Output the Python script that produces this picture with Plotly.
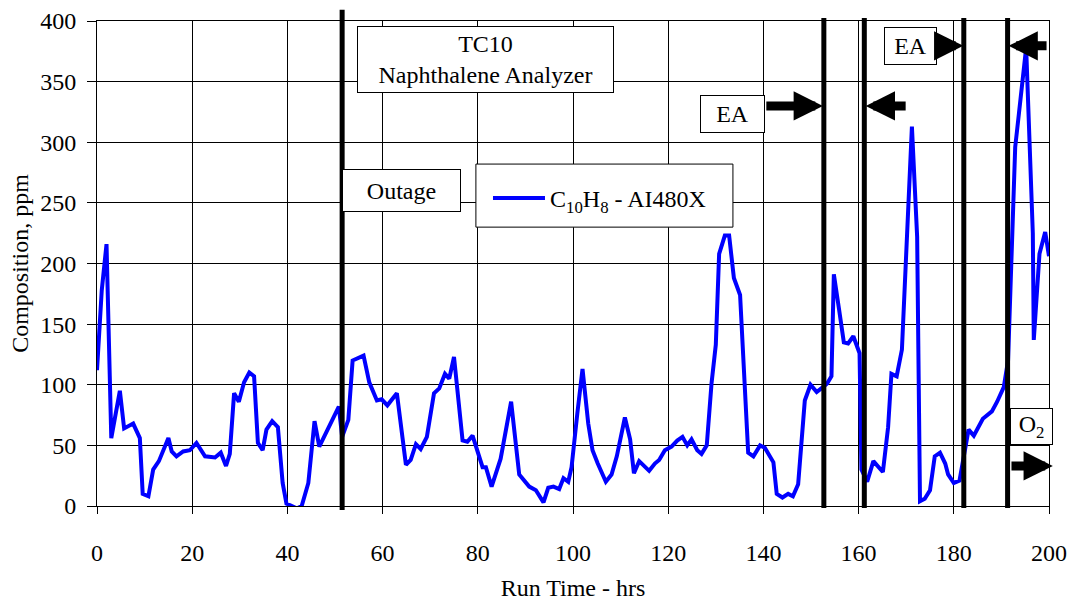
import plotly.graph_objects as go

# Run time (hrs) and naphthalene composition (ppm)
run_time = [0, 1, 2, 3, 4.8, 5.7, 7.6, 9, 9.6, 10.8, 11.8, 13, 15, 15.7, 16.7, 18.1, 19.5,
            20.9, 22.7, 24.8, 26, 27.1, 27.9, 28.8, 29.8, 30.9, 32, 33, 33.8, 34.8, 35.6,
            36.8, 38, 39, 39.8, 42, 43, 44.4, 45.7, 46.7, 50.8, 51.5, 52.8, 53.7, 56, 57.2,
            58.8, 59.8, 61, 63, 64.9, 65.9, 67, 68, 69.3, 70.8, 71.9, 73.1, 74, 75, 76.8,
            77.8, 78.9, 81, 81.7, 82.9, 84.8, 87, 88.7, 90.8, 92.2, 93.8, 94.8, 95.9, 97.1,
            98, 99, 99.7, 100.9, 102, 103.2, 104.1, 105.2, 106.9, 108.1, 109.2, 110.9, 112,
            112.8, 113.9, 116, 117.2, 118.1, 119.3, 120.7, 121.9, 123, 124, 124.9, 126.1,
            127, 128.1, 129.1, 130, 130.7, 131.9, 132.8, 133.8, 135.1, 136.8, 137.9, 139.3,
            140.3, 142.1, 142.8, 144, 145.2, 146.2, 147.3, 148.7, 149.9, 151.2, 152.5, 153.4,
            154.3, 154.8, 155.9, 156.9, 157.8, 158.9, 160.2, 160.6, 161.8, 163.1, 165.1,
            166.2, 166.9, 168, 169.1, 170.1, 171.2, 172.3, 172.9, 173.9, 175, 176, 177.1,
            178.2, 178.8, 180, 181.2, 183.1, 184.2, 186.1, 188, 189.1, 190.5, 191.4, 192.9,
            194, 195.2, 196.6, 196.8, 198, 199.2, 200]
c10h8_ppm = [112, 178, 216, 56, 95, 64, 68, 56, 10, 8, 30, 37, 56, 45, 41, 45, 46,
             52, 41, 40, 44, 33, 43, 93, 86, 102, 110, 107, 52, 46, 63,
             70, 65, 19, 2, -2, 0, 19, 70, 49, 82, 57, 71, 120, 124, 102,
             87, 88, 83, 93, 34, 38, 51, 47, 57, 93, 97, 109, 105, 123, 54,
             53, 58, 32, 32, 16, 39, 86, 26, 16, 13, 3, 15, 16, 14,
             23, 20, 32, 76, 113, 68, 46, 35, 20, 26, 41, 73, 55,
             27, 37, 29, 35, 38, 46, 49, 54, 57, 50, 55, 46,
             43, 50, 101, 133, 208, 223, 223, 188, 174, 44, 41, 50,
             48, 36, 10, 7, 10, 8, 18, 87, 100, 94, 98, 101,
             107, 191, 162, 135, 134, 140, 126, 30, 20, 37, 28,
             65, 109, 107, 129, 225, 313, 222, 4, 6, 13, 41, 44,
             35, 26, 19, 21, 63, 58, 72, 78, 86, 98, 120, 296,
             335, 378, 225, 137, 208, 226, 206]

series_name = "C<sub>10</sub>H<sub>8</sub> - AI480X"
x_ticks = [0, 20, 40, 60, 80, 100, 120, 140, 160, 180, 200]
y_ticks = [0, 50, 100, 150, 200, 250, 300, 350, 400]

# Event markers (hrs)
outage_time = 51.5
event_times = [152.7, 161.2, 182.1, 191.3]

FONT = "Liberation Serif, Times New Roman, serif"

fig = go.Figure()
fig.add_trace(go.Scatter(x=run_time, y=c10h8_ppm, mode="lines", name=series_name,
                         line=dict(color="#0000FF", width=4), showlegend=True))

shapes = [dict(type="line", xref="x", yref="paper", x0=outage_time, x1=outage_time,
               y0=-0.008, y1=1.023, line=dict(color="black", width=5), layer="above")]
for t in event_times:
    shapes.append(dict(type="line", xref="x", yref="paper", x0=t, x1=t,
                       y0=-0.004, y1=1.006, line=dict(color="black", width=5), layer="above"))
# legend frame
shapes.append(dict(type="rect", xref="paper", yref="paper", x0=0.398, x1=0.668,
                   y0=0.575, y1=0.705, fillcolor="white",
                   line=dict(color="black", width=1), layer="above"))

def box(text, xc, yc, w, h):
    return dict(text=text, x=xc, y=yc, xref="x", yref="y", showarrow=False,
                width=w, height=h, bgcolor="white", bordercolor="black", borderwidth=1,
                borderpad=0, font=dict(family=FONT, size=24, color="black"),
                xanchor="center", yanchor="middle", align="center", valign="middle")

def arrow(x_head, x_tail, y):
    return dict(text="", x=x_head, y=y, ax=x_tail, ay=y, xref="x", yref="y",
                axref="x", ayref="y", showarrow=True, arrowhead=2, arrowsize=0.65,
                arrowwidth=9, arrowcolor="black")

annotations = [
    box("TC10<br>Naphthalene Analyzer", 81.6, 368.2, 255, 65),
    box("Outage", 64.0, 260.2, 117, 41),
    box("EA", 133.5, 323.7, 63, 36),
    box("EA", 170.9, 379.0, 51, 36),
    box("O<sub>2</sub>", 196.3, 65.2, 41, 35),
    arrow(152.5, 140.3, 330),
    arrow(161.5, 170.2, 330),
    arrow(182.0, 176.5, 379.5),
    arrow(191.5, 199.8, 379.5),
    arrow(200.8, 191.8, 33),
]

fig.update_layout(
    width=1075, height=603,
    margin=dict(l=97, r=26, t=21, b=97),
    paper_bgcolor="white", plot_bgcolor="white",
    font=dict(family=FONT, size=24, color="black"),
    shapes=shapes, annotations=annotations,
    showlegend=True,
    legend=dict(x=0.4107, y=0.634, xanchor="left", yanchor="middle",
                bgcolor="rgba(0,0,0,0)", borderwidth=0, itemwidth=52,
                font=dict(family=FONT, size=24, color="black")),
)
fig.update_xaxes(range=[0, 200], tickvals=x_ticks, showgrid=True, gridcolor="black",
                 gridwidth=1, showline=True, linecolor="black", linewidth=1, mirror=True,
                 ticks="outside", ticklen=7, tickcolor="black", zeroline=False,
                 ticklabelstandoff=18, automargin=False,
                 title=dict(text="Run Time - hrs", font=dict(family=FONT, size=24), standoff=14))
fig.update_yaxes(range=[0, 400], tickvals=y_ticks, showgrid=True, gridcolor="black",
                 gridwidth=1, showline=True, linecolor="black", linewidth=1, mirror=True,
                 ticks="outside", ticklen=9, tickcolor="black", zeroline=False,
                 ticklabelstandoff=6, automargin=False,
                 title=dict(text="Composition, ppm", font=dict(family=FONT, size=24), standoff=4))

fig.write_html("out.html")
